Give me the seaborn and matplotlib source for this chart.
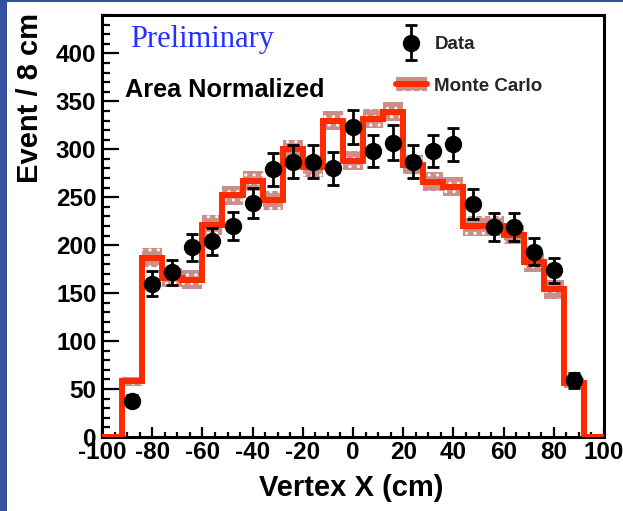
import matplotlib
matplotlib.use("Agg")
import matplotlib.pyplot as plt
import seaborn as sns
from matplotlib.patches import Patch, Rectangle
from matplotlib.lines import Line2D
from matplotlib.ticker import MultipleLocator
from matplotlib.legend_handler import HandlerErrorbar
from matplotlib.container import ErrorbarContainer

# ---- data ----
bin_edges = [-100, -92, -84, -76, -68, -60, -52, -44, -36, -28, -20, -12, -4,
             4, 12, 20, 28, 36, 44, 52, 60, 68, 76, 84, 92, 100]
mc_values = [0, 58, 187, 166, 164, 221, 252, 267, 247, 300, 281, 330, 288,
             332, 339, 284, 266, 261, 220, 220, 211, 182, 154, 56, 0]
mc_errors = [0, 5, 10, 10, 10, 10, 10, 10, 10, 10, 10, 10, 10,
             10, 10, 10, 10, 10, 10, 10, 10, 10, 10, 5, 0]
data_x = [-88, -80, -72, -64, -56, -48, -40, -32, -24, -16, -8, 0,
          8, 16, 24, 32, 40, 48, 56, 64, 72, 80, 88]
data_y = [38, 160, 172, 198, 204, 220, 244, 279, 287, 287, 280, 323,
          298, 307, 287, 298, 305, 243, 219, 219, 193, 174, 59]
data_err = [6, 13, 13, 14, 14, 15, 16, 17, 17, 17, 17, 18,
            17, 18, 17, 17, 17, 16, 15, 15, 14, 13, 8]
x_ticks = [-100, -80, -60, -40, -20, 0, 20, 40, 60, 80, 100]
y_ticks = [0, 50, 100, 150, 200, 250, 300, 350, 400]

RED = "#ff2a00"
BAND = "#cc8f88"
BLUE_BORDER = "#32529e"

sns.set_theme(style="white")
plt.rcParams["font.family"] = ["Liberation Sans", "DejaVu Sans"]
plt.rcParams["axes.unicode_minus"] = False
plt.rcParams["hatch.linewidth"] = 1.0

W, H = 623, 511
fig = plt.figure(figsize=(W / 100, H / 100), dpi=100)
fig.patch.set_facecolor("white")

# blue frame of the slide
fig.patches.append(Rectangle((0, 0), 7 / W, 1, transform=fig.transFigure,
                             facecolor=BLUE_BORDER, edgecolor="none", zorder=0))
fig.patches.append(Rectangle((0, 1 - 2 / H), 1, 2 / H, transform=fig.transFigure,
                             facecolor=BLUE_BORDER, edgecolor="none", zorder=0))

ax = fig.add_axes([102 / W, 74 / H, 502 / W, 422 / H])
ax.set_facecolor("white")

# MC uncertainty band
lower = [v - e for v, e in zip(mc_values, mc_errors)]
upper = [v + e for v, e in zip(mc_values, mc_errors)]
ax.fill_between(bin_edges, lower + [lower[-1]], upper + [upper[-1]], step="post",
                facecolor=BAND, edgecolor="white", hatch="..", linewidth=0, zorder=2)
# MC histogram line
ax.stairs(mc_values, bin_edges, color=RED, linewidth=4.3, zorder=3)

# data points
eb = ax.errorbar(data_x, data_y, yerr=data_err, fmt="o", ms=11.5, color="black",
                 ecolor="black", elinewidth=2, capsize=4, capthick=2, zorder=5)

ax.set_xlim(-100, 100)
ax.set_ylim(0, 440)
ax.set_xticks(x_ticks)
ax.set_yticks(y_ticks)
ax.xaxis.set_minor_locator(MultipleLocator(5))
ax.yaxis.set_minor_locator(MultipleLocator(10))
ax.tick_params(which="both", direction="in", bottom=True, left=True,
               top=False, right=False, color="black", width=1.6)
ax.tick_params(axis="x", which="major", length=7.5, pad=3)
ax.tick_params(axis="x", which="minor", length=3.8)
ax.tick_params(axis="y", which="major", length=12, pad=4)
ax.tick_params(axis="y", which="minor", length=6)
for lab in ax.get_xticklabels() + ax.get_yticklabels():
    lab.set_fontsize(17.5)
    lab.set_fontweight("bold")
    lab.set_color("black")
for sp in ax.spines.values():
    sp.set_visible(True)
    sp.set_color("black")
    sp.set_linewidth(2.2)
ax.grid(False)

# axis titles
fig.text(30 / W, 1 - 13 / H, "Event / 8 cm", rotation=90, ha="center", va="top",
         fontsize=21, fontweight="bold", color="black")
fig.text(351 / W, 1 - 488 / H, "Vertex X (cm)", ha="center", va="center",
         fontsize=21, fontweight="bold", color="black")

# annotations
fig.text(130 / W, 1 - 47 / H, "Preliminary", ha="left", va="baseline",
         fontsize=22, color="#2233ff", family=["Liberation Serif", "DejaVu Serif"])
fig.text(125 / W, 1 - 97 / H, "Area Normalized", ha="left", va="baseline",
         fontsize=18.2, fontweight="bold", color="black")

# legend
mc_handle = (Patch(facecolor=BAND, edgecolor="white", hatch="..", linewidth=0),
             Line2D([], [], color=RED, linewidth=4.3))
leg = ax.legend([eb, mc_handle], ["Data", "Monte Carlo"], loc="upper left",
                bbox_to_anchor=(396 / W, 1 - 36 / H), bbox_transform=fig.transFigure,
                frameon=False, prop={"size": 13.5, "weight": "bold"},
                handlelength=1.65, handletextpad=0.4, labelspacing=1.3,
                borderpad=0, borderaxespad=0,
                handler_map={ErrorbarContainer: HandlerErrorbar(xerr_size=0.5, yerr_size=0.95)})

fig.savefig("out.png", dpi=100, facecolor="white")
